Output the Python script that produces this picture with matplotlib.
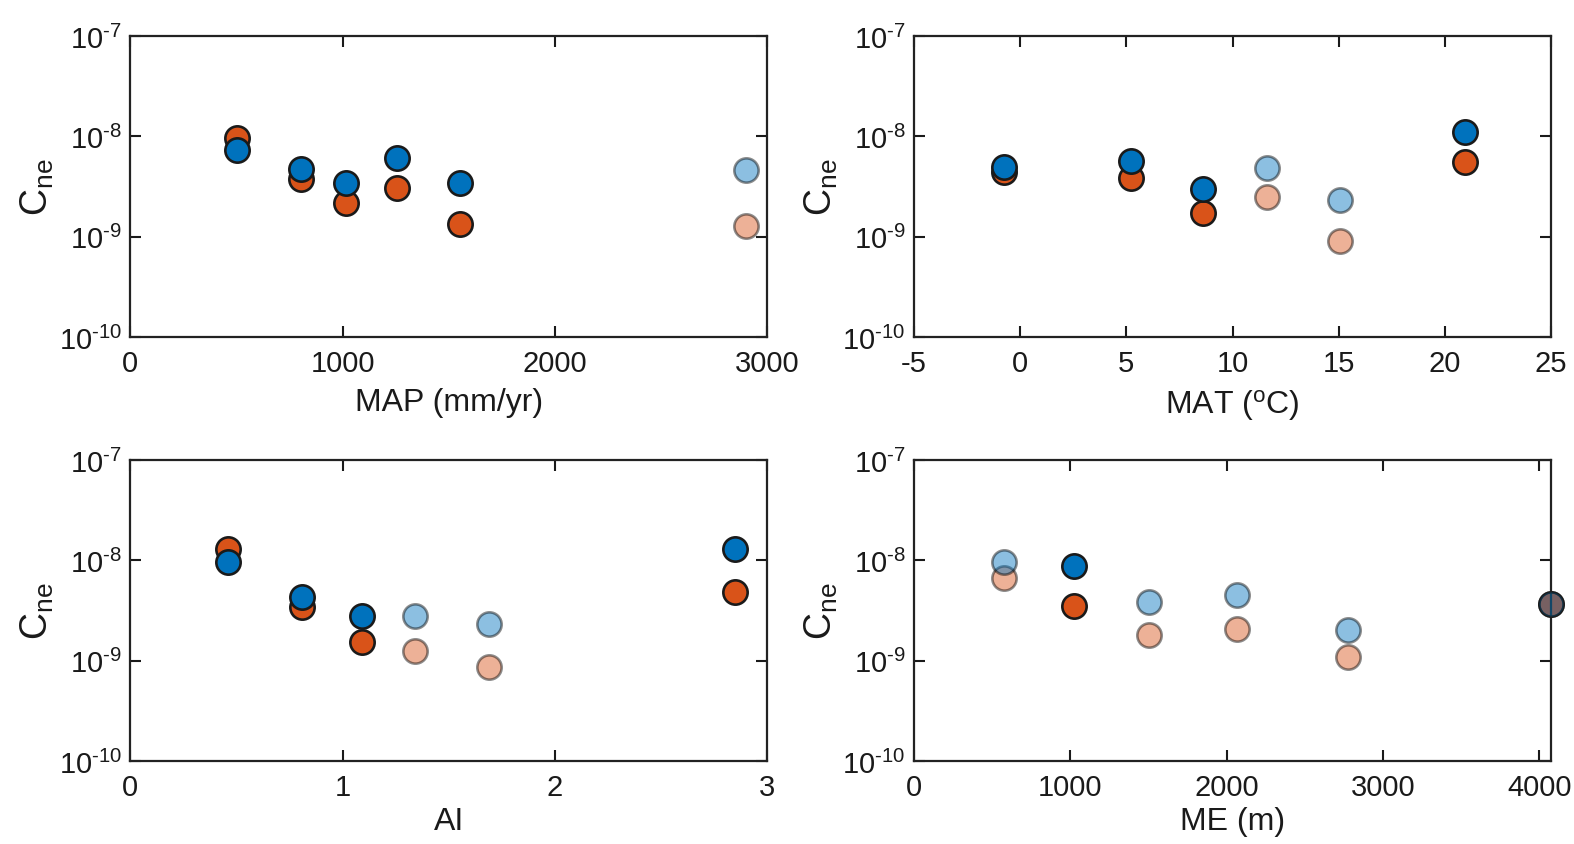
import numpy as np
import matplotlib
matplotlib.use("Agg")
import matplotlib.pyplot as plt
from matplotlib.ticker import FixedLocator, FuncFormatter

plt.rcParams['font.family'] = ['Liberation Sans', 'DejaVu Sans']
plt.rcParams['mathtext.fontset'] = 'custom'
plt.rcParams['mathtext.rm'] = 'Liberation Sans'
plt.rcParams['mathtext.it'] = 'Liberation Sans:italic'

# ---------------- data ----------------
# Panel 1: MAP
map_x_dark = [504, 806, 1017, 1257, 1552]
map_or_dark = [9.55e-9, 3.74e-9, 2.16e-9, 3.07e-9, 1.33e-9]
map_bl_dark = [7.26e-9, 4.77e-9, 3.39e-9, 6.04e-9, 3.39e-9]
map_x_light = [2900]
map_or_light = [1.29e-9]
map_bl_light = [4.67e-9]

# Panel 2: MAT
mat_x_dark = [-0.74, 5.2, 8.6, 20.93]
mat_or_dark = [4.4e-9, 3.8e-9, 1.72e-9, 5.56e-9]
mat_bl_dark = [4.9e-9, 5.65e-9, 3.0e-9, 1.1e-8]
mat_x_light = [11.64, 15.06]
mat_or_light = [2.5e-9, 0.9e-9]
mat_bl_light = [4.8e-9, 2.3e-9]

# Panel 3: AI
ai_x_dark = [0.459, 0.808, 1.093, 2.848]
ai_or_dark = [1.29e-8, 3.43e-9, 1.55e-9, 4.89e-9]
ai_bl_dark = [9.6e-9, 4.29e-9, 2.78e-9, 1.31e-8]
ai_x_light = [1.341, 1.688]
ai_or_light = [1.25e-9, 0.86e-9]
ai_bl_light = [2.78e-9, 2.33e-9]

# Panel 4: ME
me_x_dark = [1026, 4075]
me_or_dark = [3.5e-9, 3.7e-9]
me_bl_dark = [8.8e-9, 3.7e-9]
me_x_light = [576, 1502, 2065, 2777]
me_or_light = [6.7e-9, 1.81e-9, 2.05e-9, 1.08e-9]
me_bl_light = [9.6e-9, 3.86e-9, 4.5e-9, 2.0e-9]

xlabels = ['MAP (mm/yr)', r'MAT ($\mathregular{^{o}}$C)', 'AI', 'ME (m)']
xlims = [(0, 3000), (-5, 25), (0, 3), (0, 4075)]
xticks = [[0, 1000, 2000, 3000], [-5, 0, 5, 10, 15, 20, 25], [0, 1, 2, 3], [0, 1000, 2000, 3000, 4000]]
yticks = [1e-10, 1e-9, 1e-8, 1e-7]

ORANGE = '#D95319'
BLUE = '#0072BD'
EDGE = '#1a1a1a'
TXT = '#1a1a1a'

W, H = 1574, 845
fig = plt.figure(figsize=(W / 100, H / 100), dpi=100)

lefts = [130.3, 914.0]
tops = [37, 461]
aw, ah = 637, 301
positions = [(lefts[0], tops[0]), (lefts[1], tops[0]), (lefts[0], tops[1]), (lefts[1], tops[1])]

panels = [
    (map_x_dark, map_or_dark, map_bl_dark, map_x_light, map_or_light, map_bl_light),
    (mat_x_dark, mat_or_dark, mat_bl_dark, mat_x_light, mat_or_light, mat_bl_light),
    (ai_x_dark, ai_or_dark, ai_bl_dark, ai_x_light, ai_or_light, ai_bl_light),
    (me_x_dark, me_or_dark, me_bl_dark, me_x_light, me_or_light, me_bl_light),
]

ms = 17.5
mew = 1.9

def yfmt(v, pos):
    e = int(round(np.log10(v)))
    return r'$\mathregular{10^{\text{-}%d}}$' % abs(e)

for i, (px, py) in enumerate(positions):
    ax = fig.add_axes([px / W, 1 - (py + ah) / H, aw / W, ah / H])
    xd, od, bd, xl, ol, bl = panels[i]
    # light (faded) points
    ax.plot(xl, ol, 'o', ms=ms, mfc=ORANGE, mec='black', mew=mew, alpha=0.45, zorder=3, clip_on=False)
    ax.plot(xl, bl, 'o', ms=ms, mfc=BLUE, mec='black', mew=mew, alpha=0.45, zorder=3, clip_on=False)
    if i == 3:
        ax.plot(xd[:1], od[:1], 'o', ms=ms, mfc=ORANGE, mec=EDGE, mew=mew, zorder=3, clip_on=False)
        ax.plot(xd[:1], bd[:1], 'o', ms=ms, mfc=BLUE, mec=EDGE, mew=mew, zorder=3, clip_on=False)
        # last ME point: orange below spine, blue semi-transparent above
        ax.plot(xd[1:], od[1:], 'o', ms=ms, mfc=ORANGE, mec=EDGE, mew=mew, zorder=2, clip_on=False)
        ax.plot(xd[1:], bd[1:], 'o', ms=ms, mfc=BLUE, mec=EDGE, mew=mew, alpha=0.45, zorder=3, clip_on=False)
    else:
        ax.plot(xd, od, 'o', ms=ms, mfc=ORANGE, mec=EDGE, mew=mew, zorder=3, clip_on=False)
        ax.plot(xd, bd, 'o', ms=ms, mfc=BLUE, mec=EDGE, mew=mew, zorder=3, clip_on=False)

    ax.set_yscale('log')
    ax.set_ylim(1e-10, 1e-7)
    ax.set_xlim(*xlims[i])
    ax.xaxis.set_major_locator(FixedLocator(xticks[i]))
    ax.set_xticklabels([str(t) for t in xticks[i]])
    ax.yaxis.set_major_locator(FixedLocator(yticks))
    ax.yaxis.set_minor_locator(FixedLocator([]))
    ax.yaxis.set_major_formatter(FuncFormatter(yfmt))
    ax.tick_params(direction='in', length=8, width=1.5, top=True, right=True,
                   labelsize=21, pad=9, colors=TXT)
    ax.tick_params(axis='y', pad=6)
    for s in ax.spines.values():
        s.set_linewidth(1.6)
        s.set_color('#222222')
        s.set_zorder(2.5)
    ax.set_xlabel(xlabels[i], fontsize=23, labelpad=(7 if i < 2 else 3), color=TXT)
    ax.set_ylabel(r'$\mathregular{C_{ne}}$', fontsize=27, labelpad=2, color=TXT)

fig.savefig('out.png', dpi=100)
